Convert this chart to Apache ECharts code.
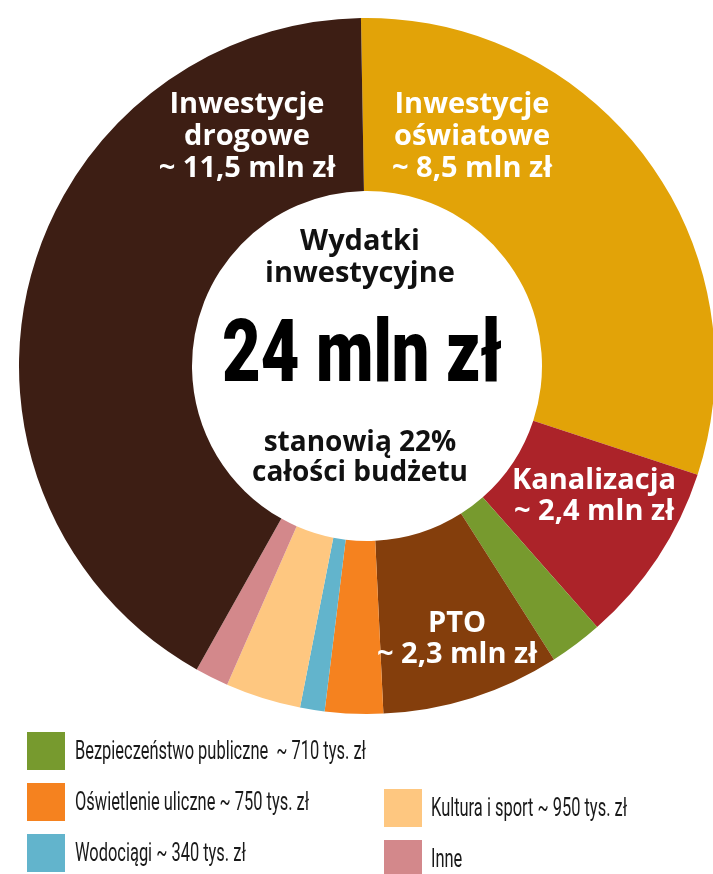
<!DOCTYPE html>
<html>
<head>
<meta charset="utf-8">
<script src="https://cdn.jsdelivr.net/npm/echarts@6/dist/echarts.min.js"></script>
<style>
  html, body { margin: 0; padding: 0; background: #ffffff; }
  #chart { width: 713px; height: 874px; }
</style>
</head>
<body>
<div id="chart"></div>
<script>
// Slice order: clockwise from 12 o'clock
const sliceNames = [
  'Inwestycje oświatowe', 'Kanalizacja', 'Bezpieczeństwo publiczne', 'PTO',
  'Oświetlenie uliczne', 'Wodociągi', 'Kultura i sport', 'Inne', 'Inwestycje drogowe'
];
// angular shares (degrees of the ring)
const sliceShares = [109.2, 30.4, 8.9, 29.8, 9.7, 4.1, 12.6, 5.6, 149.7];
const sliceColors = [
  '#e2a308', '#ac2329', '#779a2e', '#843e0c',
  '#f5821f', '#62b4cc', '#fec780', '#d3888b', '#3d1e14'
];
const ringLabels = [
  'Inwestycje\noświatowe\n~ 8,5 mln zł',
  'Kanalizacja\n~ 2,4 mln zł',
  '',
  'PTO\n~ 2,3 mln zł',
  '', '', '', '',
  'Inwestycje\ndrogowe\n~ 11,5 mln zł'
];
const centerTitle = 'Wydatki\ninwestycyjne';
const centerValue = '24 mln zł';
const centerNote = 'stanowią 22%\ncałości budżetu';
const legendLeft = [
  ['Bezpieczeństwo publiczne  ~ 710 tys. zł', 2],
  ['Oświetlenie uliczne ~ 750 tys. zł', 4],
  ['Wodociągi ~ 340 tys. zł', 5]
];
const legendRight = [
  ['Kultura i sport ~ 950 tys. zł', 6],
  ['Inne', 7]
];

// layout
const labelPos = {0: [472, 137], 1: [594, 496], 3: [457, 639], 8: [247, 137]};
const labelLH = {0: 32, 1: 31, 3: 31, 8: 32};

function measure(text, font) {
  const c = document.createElement('canvas').getContext('2d');
  c.font = font;
  return c.measureText(text).width;
}
const legendFont = '25px Roboto';
const legendScale = 291 / measure(legendLeft[0][0], legendFont);
const bigFont = '900 88px Roboto';
const bigScale = 280 / measure(centerValue, bigFont);

const chart = echarts.init(document.getElementById('chart'), null, {renderer: 'canvas'});

const graphics = [];
graphics.push({
  type: 'text', x: 360, y: 258, z: 10,
  style: {text: centerTitle, font: 'bold 29px "Open Sans"', lineHeight: 32,
          fill: '#111', align: 'center', verticalAlign: 'middle'}
});
graphics.push({
  type: 'text', x: 362, y: 359, z: 10, scaleX: bigScale,
  style: {text: centerValue, font: bigFont, fill: '#000', align: 'center', verticalAlign: 'middle'}
});
graphics.push({
  type: 'text', x: 360, y: 458, z: 10,
  style: {text: centerNote, font: 'bold 28px "Open Sans"', lineHeight: 30,
          fill: '#111', align: 'center', verticalAlign: 'middle'}
});
function addLegend(items, boxX, textX, rowYs) {
  items.forEach((it, i) => {
    const y = rowYs[i];
    graphics.push({
      type: 'rect', shape: {x: boxX, y: y - 19, width: 38, height: 38},
      style: {fill: sliceColors[it[1]]}
    });
    graphics.push({
      type: 'text', x: textX, y: y + 2, scaleX: legendScale,
      style: {text: it[0], font: legendFont, fill: '#1a1a1a', align: 'left', verticalAlign: 'middle'}
    });
  });
}
addLegend(legendLeft, 27, 75, [751, 802, 853]);
addLegend(legendRight, 384, 431, [808, 859]);

chart.setOption({
  animation: false,
  backgroundColor: '#ffffff',
  graphic: graphics,
  series: [{
    type: 'pie',
    center: [367, 366],
    radius: [175, 348],
    startAngle: 91,
    clockwise: true,
    avoidLabelOverlap: false,
    emphasis: {disabled: true},
    itemStyle: {borderWidth: 0},
    labelLine: {show: false},
    label: {
      show: true, position: 'inside', color: '#ffffff',
      fontFamily: 'Open Sans', fontWeight: 'bold', fontSize: 29,
      formatter: p => ringLabels[p.dataIndex]
    },
    labelLayout: function (params) {
      const pos = labelPos[params.dataIndex];
      if (!pos) return {};
      return {x: pos[0], y: pos[1], align: 'center', verticalAlign: 'middle'};
    },
    data: sliceNames.map((n, i) => ({
      name: n, value: sliceShares[i],
      itemStyle: {color: sliceColors[i]},
      label: {show: ringLabels[i] !== '', lineHeight: labelLH[i] || 31}
    }))
  }]
});
</script>
</body>
</html>
